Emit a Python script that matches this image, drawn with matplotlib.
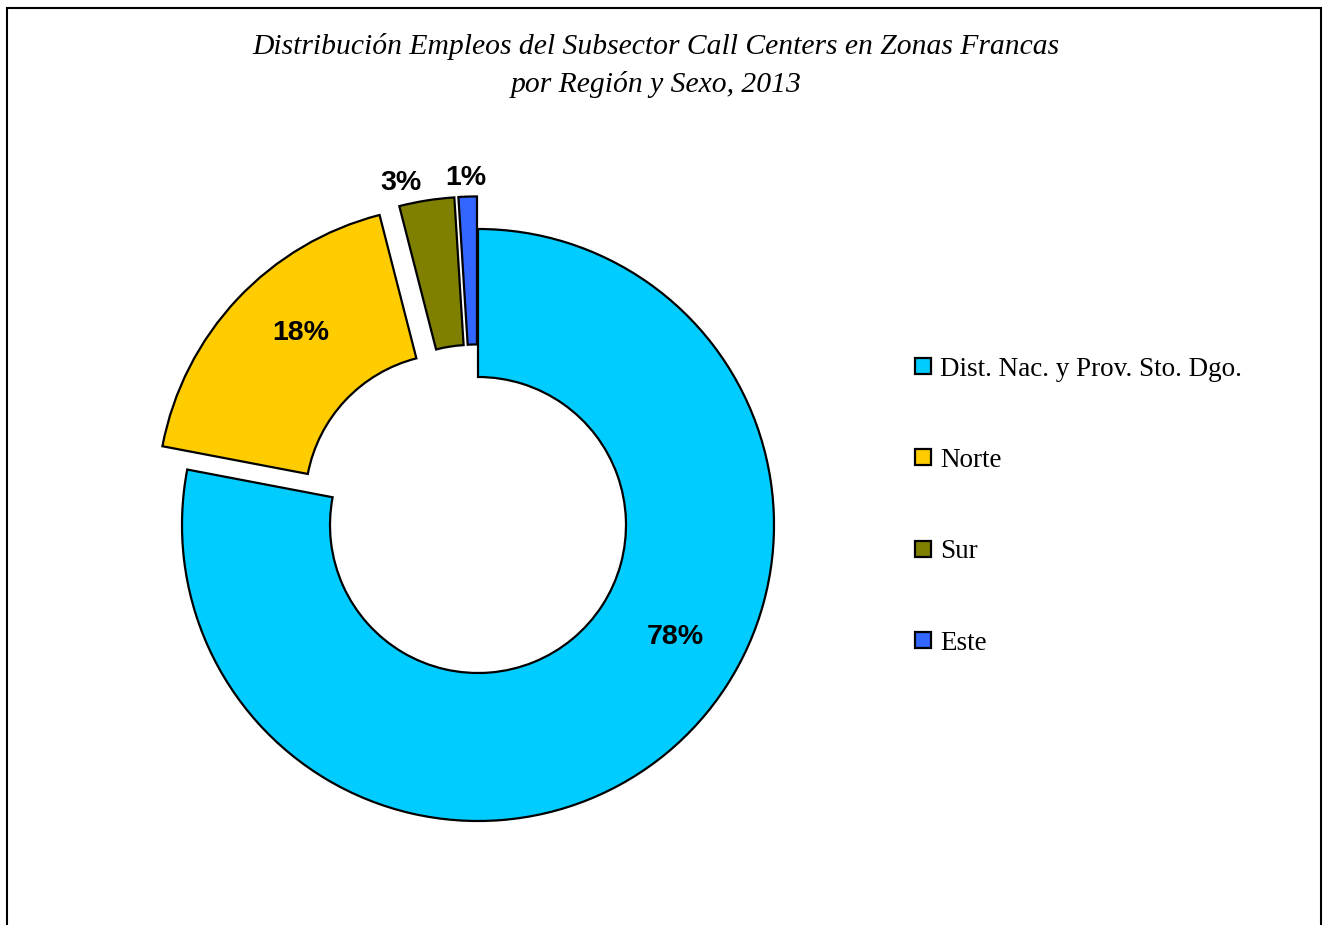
import matplotlib
matplotlib.use("Agg")
from matplotlib import pyplot as plt
from matplotlib.patches import Rectangle
from matplotlib.lines import Line2D

regions = ['Dist. Nac. y Prov. Sto. Dgo.', 'Norte', 'Sur', 'Este']
shares = [78, 18, 3, 1]
colors = ['#00CCFF', '#FFCC00', '#808000', '#3366FF']
explode = [0, 0.115, 0.11, 0.11]

# label positions in data units (radius 1 = outer ring)
label_pos = [(0.666, -0.378), (-0.60, 0.65), (-0.26, 1.155), (-0.04, 1.172)]

W, H = 1323, 925
fig = plt.figure(figsize=(W / 100, H / 100), dpi=100)

# donut centre (478, 525) px, radius 296 px
L = 1.25
S = 2 * L * 296
cx, cy = 478, 525
ax = fig.add_axes([(cx - S / 2) / W, (H - cy - S / 2) / H, S / W, S / H])
ax.pie(shares, colors=colors, explode=explode, startangle=90, counterclock=False,
       radius=1, wedgeprops=dict(width=0.5, edgecolor='black', linewidth=1.6))
ax.set_xlim(-L, L)
ax.set_ylim(-L, L)
ax.set_aspect('equal')
ax.axis('off')

for (x, y), v in zip(label_pos, shares):
    ax.text(x, y, f'{v}%', ha='center', va='center', fontsize=20.5, fontweight='bold',
            family='Liberation Sans')

fig.text(656 / W, 1 - 46 / H, 'Distribución Empleos del Subsector Call Centers en Zonas Francas',
         ha='center', va='center', fontsize=21.3, style='italic', family='Liberation Serif')
fig.text(656 / W, 1 - 84 / H, 'por Región y Sexo, 2013',
         ha='center', va='center', fontsize=21.3, style='italic', family='Liberation Serif')

handles = [Line2D([], [], marker='s', linestyle='none', markersize=12, markerfacecolor=c,
                  markeredgecolor='black', markeredgewidth=1.6) for c in colors]
leg = fig.legend(handles, regions, loc='upper left', bbox_to_anchor=(896 / W, 1 - 343 / H),
                 frameon=False, prop=dict(family='Liberation Serif', size=19.5),
                 labelspacing=2.45, handletextpad=0.12, handlelength=1.0, borderpad=0)

fig.patches.append(Rectangle((7 / W, -0.1), (1321 - 7) / W, 1.1 - 8 / H, transform=fig.transFigure,
                             fill=False, edgecolor='black', linewidth=1.5))

fig.savefig('out.png', dpi=100)
